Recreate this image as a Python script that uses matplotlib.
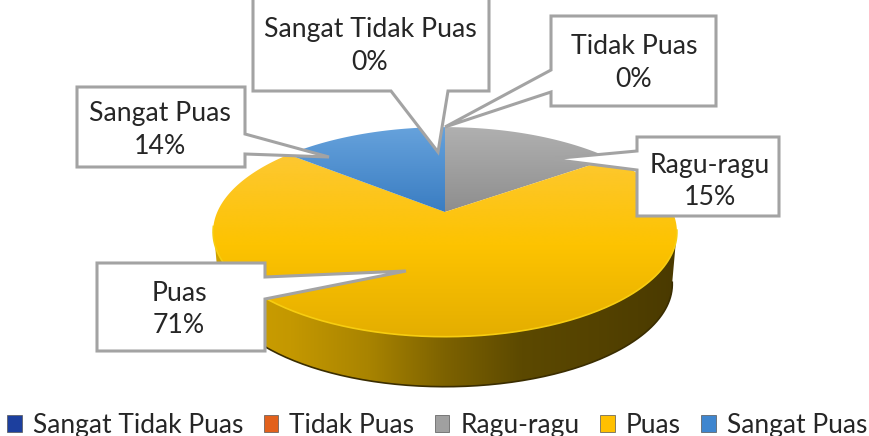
#!/usr/bin/env python3
"""3D style pie of satisfaction answers with callout labels."""
import numpy as np
import matplotlib
matplotlib.use("Agg")
import matplotlib.pyplot as plt
from matplotlib.colors import LinearSegmentedColormap
from matplotlib.patches import Patch, Polygon

plt.rcParams["font.family"] = ["Lato", "DejaVu Sans"]

categories = ["Sangat Tidak Puas", "Tidak Puas", "Ragu-ragu", "Puas", "Sangat Puas"]
values = [0, 0, 15, 71, 14]
legend_colors = ["#1c3f9e", "#e2611c", "#a0a0a0", "#ffc000", "#3f86cf"]

# top to bottom colours of the top face
top_ramps = {
    "Ragu-ragu": ["#b0b0b0", "#8e8e8e"],
    "Puas": ["#fdc832", "#fdc300", "#e4ae00"],
    "Sangat Puas": ["#66a2dc", "#3a7dc2"],
}

APEX = (445, 212)
SCALE_X, SCALE_Y, PERSP = 227.7, 101.0, 0.19
DEPTH, DEPTH_SHRINK = 52.5, 0.98
INK = "#262626"
BORDER = "#a3a3a3"


def project(theta, lower=False):
    """Map clockwise-from-top angle on the unit disc to picture pixels."""
    u, v = np.sin(theta), np.cos(theta)
    d = 1 + PERSP * v
    x, y = SCALE_X * u / d, -SCALE_Y * v / d
    if lower:
        return APEX[0] + x * DEPTH_SHRINK, APEX[1] + DEPTH + y * DEPTH_SHRINK
    return APEX[0] + x, APEX[1] + y


def gradient(ax, pts, colors, horizontal=False, zorder=2):
    pts = np.asarray(pts)
    x0, x1 = pts[:, 0].min(), pts[:, 0].max()
    y0, y1 = pts[:, 1].min(), pts[:, 1].max()
    cmap = LinearSegmentedColormap.from_list("g", colors)
    ramp = np.linspace(0, 1, 256)
    ramp = ramp[None, :] if horizontal else ramp[:, None]
    im = ax.imshow(ramp, cmap=cmap, extent=(x0, x1, y1, y0), aspect="auto",
                   zorder=zorder, interpolation="bilinear")
    clip = Polygon(pts, closed=True, transform=ax.transData, facecolor="none", edgecolor="none")
    ax.add_patch(clip)
    im.set_clip_path(clip)


def callout(ax, outline, cx, cy, text):
    ax.add_patch(Polygon(outline, closed=True, facecolor="white", edgecolor=BORDER,
                         linewidth=2.2, joinstyle="miter", zorder=5, clip_on=True))
    ax.text(cx, cy, text, ha="center", va="center", fontsize=19.2, color=INK,
            linespacing=1.38, zorder=6)


fig = plt.figure(figsize=(8.69, 4.36), dpi=100)
ax = fig.add_axes([0, 0, 1, 1])

# side wall, only the front of the disc shows
front = np.linspace(np.radians(100), np.radians(262), 200)
tx, ty = project(front)
bx, by = project(front, lower=True)
wall = np.r_[np.c_[tx, ty], np.c_[bx, by][::-1]]
gradient(ax, wall, ["#d0a200", "#c49800", "#a98400", "#7d6200", "#5c4900", "#544200", "#4a3a00"],
         horizontal=True, zorder=1)
ax.plot(bx, by, color="#3a2d00", lw=1.2, zorder=1.5)

# slices on the top face
edges = np.radians(np.cumsum([0] + values) / sum(values) * 360)
for name, val, a0, a1 in zip(categories, values, edges[:-1], edges[1:]):
    if val == 0:
        continue
    th = np.linspace(a0, a1, 200)
    x, y = project(th)
    pts = np.r_[[APEX], np.c_[x, y]]
    gradient(ax, pts, top_ramps[name], zorder=2)

ax.plot(tx, ty, color="#f7cd10", lw=1.2, zorder=3)

callout(ax, [(253, -6), (489, -6), (489, 91), (448, 91), (438, 152), (391, 91), (253, 91)],
        370, 46, f"{categories[0]}\n{values[0]}%")
callout(ax, [(551, 16), (716, 16), (716, 106), (551, 106), (551, 92), (445, 127), (551, 70)],
        634, 63, f"{categories[1]}\n{values[1]}%")
callout(ax, [(637, 137), (779, 137), (779, 216), (637, 216), (637, 170), (550, 159), (637, 151)],
        710, 181.5, f"{categories[2]}\n{values[2]}%")
callout(ax, [(97, 263), (265, 263), (265, 277), (406, 271), (265, 299), (265, 351), (97, 351)],
        179, 309.5, f"{categories[3]}\n{values[3]}%")
callout(ax, [(77, 87), (245, 87), (245, 134), (329, 157), (245, 154), (245, 167), (77, 167)],
        160, 130, f"{categories[4]}\n{values[4]}%")

handles = [Patch(facecolor=c, edgecolor="#555555", linewidth=0.5) for c in legend_colors]
ax.legend(handles, categories, loc="lower center", bbox_to_anchor=(0.503, -0.022), ncol=5,
          frameon=False, fontsize=19, handlelength=0.55, handleheight=0.62, handletextpad=0.42,
          columnspacing=0.78, labelcolor=INK, borderaxespad=0.2, borderpad=0.1)

ax.set_xlim(0, 869)
ax.set_ylim(436, 0)
ax.axis("off")
fig.savefig("out.png", dpi=100, facecolor="white")
